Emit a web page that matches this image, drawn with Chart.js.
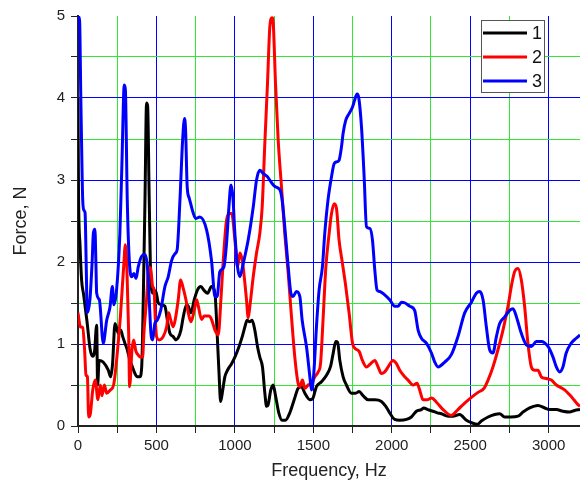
<!DOCTYPE html>
<html>
<head>
<meta charset="utf-8">
<script src="https://cdn.jsdelivr.net/npm/chart.js@4.4.1/dist/chart.umd.min.js"></script>
<style>
  body { margin: 0; background: #fff; }
  canvas { display: block; }
</style>
</head>
<body>
<canvas id="chart1" width="580" height="492"></canvas>
<script>
// tick positions (majors get a label and a blue grid line, minors a green one)
var xTicks = [0, 250, 500, 750, 1000, 1250, 1500, 1750, 2000, 2250, 2500, 2750, 3000];
var yTicks = [0, 0.5, 1, 1.5, 2, 2.5, 3, 3.5, 4, 4.5, 5];

// series 1 (black)
var freq1 = [0, 3, 13, 23, 36, 57, 78, 94, 105, 119, 125, 135, 160, 193, 208, 220, 236, 257, 272, 285, 299, 314, 331, 347, 363, 378, 394, 406, 416, 427, 437, 444, 454, 465, 480, 495, 512, 530, 554, 569, 586, 607, 624, 640, 656, 671, 692, 703, 720, 741, 762, 783, 805, 826, 851, 873, 887, 900, 909, 922, 936, 953, 979, 1000, 1025, 1047, 1064, 1078, 1094, 1110, 1127, 1145, 1159, 1176, 1191, 1202, 1212, 1229, 1244, 1259, 1280, 1301, 1322, 1350, 1378, 1403, 1425, 1446, 1478, 1495, 1520, 1552, 1584, 1609, 1626, 1643, 1655, 1669, 1690, 1711, 1743, 1770, 1792, 1817, 1849, 1892, 1934, 1962, 1987, 2019, 2051, 2094, 2125, 2157, 2189, 2204, 2230, 2263, 2290, 2316, 2359, 2390, 2433, 2476, 2508, 2546, 2571, 2614, 2656, 2688, 2720, 2760, 2805, 2837, 2879, 2932, 2975, 3006, 3049, 3091, 3134, 3166, 3200];
var force1 = [4.0, 2.9, 2.2, 1.78, 1.6, 1.28, 0.93, 0.85, 0.9, 1.23, 0.5, 0.8, 0.78, 0.68, 0.6, 0.75, 1.25, 1.13, 1.17, 1.09, 1.01, 0.93, 0.8, 0.72, 0.64, 0.6, 0.6, 0.72, 1.54, 2.76, 3.94, 3.9, 2.76, 1.74, 1.62, 1.65, 1.5, 1.48, 1.46, 1.3, 1.13, 1.09, 1.05, 1.08, 1.17, 1.33, 1.48, 1.46, 1.38, 1.54, 1.66, 1.7, 1.65, 1.62, 1.7, 1.62, 1.13, 0.6, 0.3, 0.43, 0.6, 0.68, 0.76, 0.84, 0.96, 1.09, 1.21, 1.29, 1.27, 1.29, 1.17, 0.96, 0.84, 0.72, 0.4, 0.24, 0.26, 0.44, 0.5, 0.37, 0.16, 0.07, 0.07, 0.16, 0.32, 0.46, 0.48, 0.4, 0.32, 0.33, 0.48, 0.54, 0.62, 0.72, 0.88, 1.03, 1.02, 0.8, 0.6, 0.5, 0.4, 0.4, 0.42, 0.37, 0.32, 0.32, 0.3, 0.24, 0.16, 0.08, 0.07, 0.08, 0.11, 0.18, 0.2, 0.22, 0.2, 0.18, 0.16, 0.15, 0.12, 0.12, 0.14, 0.07, 0.04, 0.02, 0.06, 0.11, 0.14, 0.15, 0.11, 0.11, 0.12, 0.17, 0.22, 0.25, 0.22, 0.2, 0.2, 0.18, 0.17, 0.19, 0.2];

// series 2 (red)
var freq2 = [0, 15, 30, 42, 51, 60, 68, 78, 94, 110, 127, 142, 153, 168, 183, 206, 227, 248, 270, 291, 302, 312, 323, 329, 344, 355, 368, 386, 400, 412, 420, 437, 452, 463, 476, 485, 492, 501, 518, 543, 565, 578, 590, 607, 620, 639, 654, 668, 688, 703, 720, 741, 756, 765, 788, 805, 834, 851, 873, 894, 911, 926, 947, 968, 980, 1000, 1017, 1032, 1047, 1064, 1074, 1085, 1095, 1117, 1138, 1159, 1174, 1191, 1208, 1223, 1238, 1245, 1259, 1276, 1297, 1318, 1340, 1361, 1382, 1403, 1414, 1431, 1446, 1467, 1488, 1510, 1531, 1546, 1563, 1580, 1601, 1616, 1633, 1648, 1664, 1686, 1707, 1728, 1750, 1764, 1792, 1813, 1839, 1860, 1892, 1913, 1934, 1955, 1977, 2008, 2030, 2051, 2083, 2104, 2136, 2161, 2178, 2199, 2225, 2253, 2285, 2327, 2380, 2422, 2465, 2508, 2550, 2588, 2614, 2645, 2677, 2709, 2741, 2762, 2783, 2805, 2826, 2847, 2868, 2890, 2911, 2932, 2953, 2985, 3017, 3049, 3102, 3134, 3161, 3187, 3200];
var force2 = [1.38, 1.21, 1.2, 0.93, 0.62, 0.6, 0.11, 0.14, 0.44, 0.56, 0.32, 0.5, 0.37, 0.5, 0.4, 0.44, 0.5, 0.84, 1.33, 1.94, 2.21, 1.9, 1.13, 0.48, 0.93, 1.05, 0.92, 0.86, 0.84, 0.84, 1.13, 1.54, 1.94, 1.92, 1.7, 1.66, 1.33, 1.09, 1.05, 1.09, 1.21, 1.38, 1.3, 1.21, 1.3, 1.54, 1.78, 1.7, 1.54, 1.38, 1.27, 1.41, 1.54, 1.48, 1.3, 1.34, 1.34, 1.3, 1.17, 1.11, 1.54, 2.02, 2.51, 2.59, 2.59, 2.27, 1.94, 2.11, 2.02, 1.74, 1.54, 1.32, 1.45, 1.82, 2.11, 2.35, 2.67, 3.45, 4.18, 4.87, 4.98, 4.9, 4.18, 3.49, 2.92, 2.35, 1.86, 1.33, 0.84, 0.52, 0.48, 0.56, 0.46, 0.5, 0.52, 0.6, 0.66, 0.76, 1.33, 1.94, 2.35, 2.59, 2.71, 2.65, 2.27, 1.98, 1.7, 1.38, 1.01, 0.95, 0.91, 0.8, 0.72, 0.75, 0.8, 0.72, 0.64, 0.66, 0.72, 0.8, 0.76, 0.68, 0.6, 0.56, 0.5, 0.52, 0.44, 0.32, 0.32, 0.34, 0.29, 0.2, 0.13, 0.2, 0.28, 0.35, 0.41, 0.46, 0.56, 0.72, 0.93, 1.17, 1.46, 1.7, 1.88, 1.92, 1.78, 1.46, 1.01, 0.72, 0.68, 0.68, 0.6, 0.58, 0.56, 0.5, 0.44, 0.38, 0.32, 0.26, 0.24];

// series 3 (blue)
var freq3 = [0, 10, 18, 25, 30, 38, 45, 52, 59, 76, 90, 98, 108, 114, 119, 136, 161, 183, 204, 219, 229, 246, 267, 280, 295, 302, 314, 327, 342, 356, 370, 384, 406, 427, 442, 454, 465, 476, 490, 505, 527, 554, 575, 597, 618, 632, 650, 667, 679, 686, 696, 709, 734, 750, 777, 820, 851, 873, 887, 904, 930, 947, 962, 975, 987, 1000, 1017, 1032, 1053, 1085, 1117, 1138, 1159, 1180, 1208, 1229, 1255, 1287, 1301, 1318, 1340, 1357, 1371, 1393, 1414, 1429, 1457, 1478, 1488, 1503, 1520, 1537, 1558, 1573, 1594, 1616, 1633, 1648, 1664, 1680, 1690, 1707, 1728, 1750, 1764, 1779, 1790, 1807, 1824, 1839, 1860, 1877, 1892, 1906, 1924, 1955, 1987, 2019, 2040, 2062, 2085, 2115, 2146, 2168, 2189, 2221, 2253, 2274, 2295, 2338, 2380, 2422, 2465, 2508, 2539, 2561, 2582, 2603, 2624, 2645, 2667, 2688, 2720, 2752, 2773, 2795, 2826, 2858, 2890, 2922, 2953, 2996, 3028, 3049, 3070, 3091, 3112, 3144, 3176, 3200];
var force3 = [5.0, 4.95, 4.0, 3.2, 2.76, 2.63, 2.6, 2.0, 1.38, 1.54, 2.0, 2.35, 2.4, 2.0, 1.62, 1.54, 1.01, 1.29, 1.45, 1.7, 1.48, 1.66, 2.35, 3.2, 4.16, 4.1, 2.76, 2.02, 1.82, 1.86, 1.8, 1.94, 2.07, 2.09, 1.95, 1.54, 1.13, 1.05, 1.25, 1.29, 1.41, 1.7, 1.82, 2.02, 2.1, 2.15, 2.76, 3.49, 3.75, 3.6, 2.92, 2.78, 2.6, 2.53, 2.55, 2.39, 2.02, 1.58, 1.58, 1.88, 1.94, 2.23, 2.67, 2.94, 2.8, 2.35, 1.94, 1.82, 1.98, 2.27, 2.67, 3.0, 3.12, 3.08, 3.04, 2.98, 2.92, 2.88, 2.76, 2.43, 1.94, 1.62, 1.58, 1.64, 1.58, 1.29, 0.96, 0.6, 0.44, 0.64, 1.21, 1.66, 1.94, 2.35, 2.76, 3.04, 3.2, 3.22, 3.24, 3.41, 3.57, 3.73, 3.81, 3.89, 3.98, 4.05, 4.0, 3.65, 3.04, 2.43, 2.41, 2.27, 1.9, 1.66, 1.64, 1.6, 1.54, 1.46, 1.46, 1.51, 1.5, 1.46, 1.41, 1.17, 1.07, 1.01, 0.89, 0.78, 0.72, 0.78, 0.87, 1.09, 1.38, 1.51, 1.62, 1.64, 1.54, 1.21, 0.93, 0.89, 1.09, 1.25, 1.33, 1.41, 1.43, 1.33, 1.13, 0.99, 0.97, 1.03, 1.03, 0.97, 0.84, 0.72, 0.66, 0.72, 0.89, 1.01, 1.07, 1.11];

var seriesNames = ['1', '2', '3'];
var seriesColors = ['#000000', '#ff0000', '#0000ff'];

function toPoints(xs, ys) {
    return xs.map(function(x, i) { return { x: x, y: ys[i] }; });
}

// legend box drawn inside the plot, top right
var boxLegend = {
    id: 'boxLegend',
    afterDraw: function(chart) {
        var ctx = chart.ctx;
        ctx.save();
        ctx.fillStyle = '#fff';
        ctx.fillRect(481, 20, 63, 72);
        ctx.strokeStyle = '#555';
        ctx.lineWidth = 1;
        ctx.strokeRect(481.5, 20.5, 63, 72);
        ctx.font = '18px "Liberation Sans", Arial, sans-serif';
        ctx.textBaseline = 'middle';
        var rows = [33, 57, 81];
        chart.data.datasets.forEach(function(ds, i) {
            ctx.strokeStyle = ds.borderColor;
            ctx.lineWidth = 3;
            ctx.beginPath();
            ctx.moveTo(483, rows[i]);
            ctx.lineTo(527, rows[i]);
            ctx.stroke();
            ctx.fillStyle = '#111';
            ctx.fillText(ds.label, 532, rows[i] + 1);
        });
        ctx.restore();
    }
};

function makeForceChart() {
    var ctx = document.getElementById('chart1').getContext('2d');
    var datasets = [
        { label: seriesNames[0], data: toPoints(freq1, force1), order: 2 },
        { label: seriesNames[1], data: toPoints(freq2, force2), order: 1 },
        { label: seriesNames[2], data: toPoints(freq3, force3), order: 0 }
    ];
    datasets.forEach(function(ds, i) {
        ds.borderColor = seriesColors[i];
        ds.backgroundColor = seriesColors[i];
        ds.borderWidth = 3;
        ds.pointRadius = 0;
        ds.fill = false;
        ds.cubicInterpolationMode = 'monotone';
    });

    var font = { family: '"Liberation Sans", Arial, sans-serif', size: 15 };
    var titleFont = { family: '"Liberation Sans", Arial, sans-serif', size: 18 };

    new Chart(ctx, {
        type: 'line',
        data: { datasets: datasets },
        options: {
            responsive: false,
            animation: false,
            layout: { padding: { top: 16, right: 0, left: 0, bottom: 0 } },
            plugins: {
                legend: { display: false },
                tooltip: { enabled: false }
            },
            scales: {
                x: {
                    type: 'linear',
                    min: 0,
                    max: 3200,
                    afterBuildTicks: function(scale) {
                        scale.ticks = xTicks.map(function(v) { return { value: v }; });
                    },
                    afterFit: function(scale) { scale.height = 66; },
                    border: { color: '#222', width: 2 },
                    grid: {
                        color: function(c) { return c.tick.value % 500 === 0 ? '#0000ff' : '#33e633'; },
                        tickColor: '#222',
                        tickLength: 7,
                        lineWidth: 1
                    },
                    ticks: {
                        autoSkip: false,
                        maxRotation: 0,
                        padding: 4,
                        color: '#222',
                        font: font,
                        callback: function(v) { return v % 500 === 0 ? String(v) : ''; }
                    },
                    title: {
                        display: true,
                        text: 'Frequency, Hz',
                        color: '#222',
                        padding: { top: 4, bottom: 10 },
                        font: titleFont
                    }
                },
                y: {
                    min: 0,
                    max: 5,
                    afterBuildTicks: function(scale) {
                        scale.ticks = yTicks.map(function(v) { return { value: v }; });
                    },
                    afterFit: function(scale) { scale.width = 78; },
                    border: { color: '#222', width: 2 },
                    grid: {
                        color: function(c) {
                            var v = c.tick.value;
                            if (v === 5) return 'rgba(0,0,0,0)';
                            return Number.isInteger(v) ? '#0000ff' : '#33e633';
                        },
                        tickColor: '#222',
                        tickLength: 7,
                        lineWidth: 1
                    },
                    ticks: {
                        autoSkip: false,
                        padding: 6,
                        color: '#222',
                        font: font,
                        callback: function(v) { return Number.isInteger(v) ? String(v) : ''; }
                    },
                    title: {
                        display: true,
                        text: 'Force, N',
                        color: '#222',
                        padding: { top: 10, bottom: 4 },
                        font: titleFont
                    }
                }
            }
        },
        plugins: [boxLegend]
    });
}

window.onload = function() {
    makeForceChart();
};
</script>
</body>
</html>
